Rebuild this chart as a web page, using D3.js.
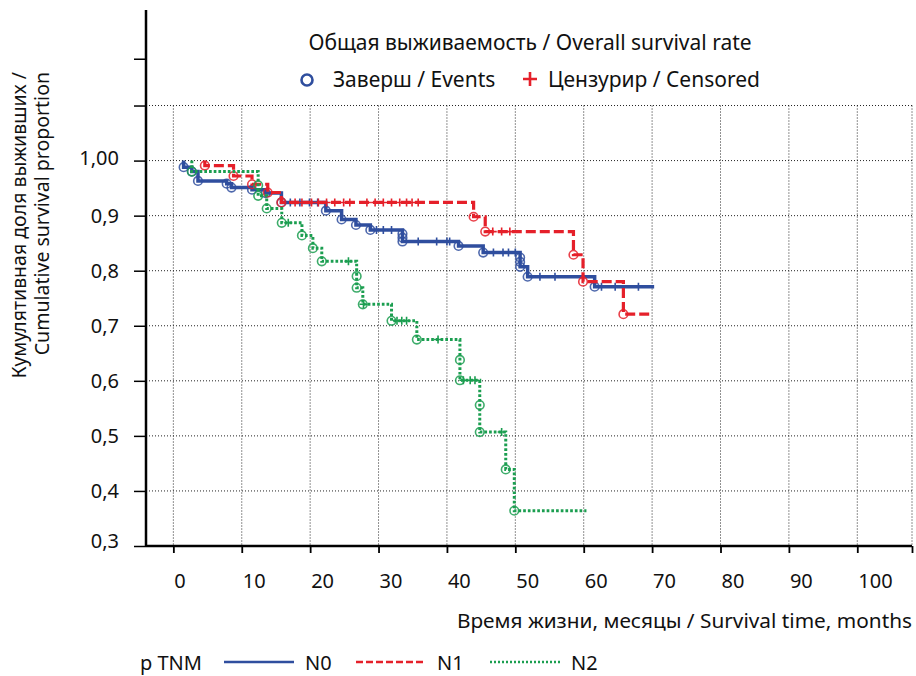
<!DOCTYPE html>
<html>
<head>
<meta charset="utf-8">
<script src="https://cdn.jsdelivr.net/npm/d3@7"></script>
<style>
  body { margin: 0; background: #fff; }
  text { font-family: "Noto Sans", sans-serif; fill: #111; }
</style>
</head>
<body>
<svg id="km" width="916" height="676"></svg>
<script>
// events: [months, survival after event]; censored: months
var n0Events = [[1.5,0.988],[2.7,0.98],[3.6,0.963],[7.8,0.958],[8.5,0.951],[11.5,0.947],[13.5,0.941],[15.8,0.924],
    [22.3,0.909],[24.6,0.893],[26.7,0.883],[28.8,0.874],[33.5,0.867],[33.5,0.860],[33.5,0.853],[41.7,0.845],
    [45.3,0.833],[50.7,0.824],[50.7,0.816],[50.7,0.807],[51.8,0.789],[61.6,0.771]]
var n0Censored = [17.1,18.5,19.9,21.1,29.7,30.7,31.9,35.8,38.5,40.0,40.4,46.8,48.2,49.0,50.0,53.6,55.8,62.6,64.6,68.0]
var n0End = 70.3

var n1Events = [[4.6,0.991],[8.8,0.972],[11.5,0.957],[13.8,0.942],[15.8,0.924],[43.9,0.898],[45.6,0.871],
    [58.5,0.829],[59.9,0.780],[65.8,0.721]]
var n1Censored = [17.8,18.8,20.2,21.2,22.4,23.6,24.9,25.8,28.3,29.5,30.7,31.9,33.1,34.1,34.9,35.8,46.7,48.0,49.2]
var n1End = 69.9

var n2Events = [[2.7,0.98],[12.4,0.955],[12.4,0.936],[13.65,0.913],[15.85,0.887],[18.8,0.864],[20.4,0.841],
    [21.7,0.817],[26.8,0.79],[26.8,0.769],[27.7,0.739],[31.9,0.709],[35.6,0.675],[41.9,0.638],[41.9,0.601],
    [44.8,0.556],[44.8,0.507],[48.6,0.439],[49.85,0.364]]
var n2Censored = [16.8,25.6,27.8,32.7,33.4,34.1,38.7,42.4,43.4,44.1,48.0]
var n2End = 60.4

var xTicks = [0,10,20,30,40,50,60,70,80,90,100]
var yTicks = [0.3,0.4,0.5,0.6,0.7,0.8,0.9,1.0]
var yLabels = ["0,3","0,4","0,5","0,6","0,7","0,8","0,9","1,00"]

var series = [
    {name:"N0", events:n0Events, censored:n0Censored, end:n0End, color:"#2F4E9E", width:3.5, dash:null, legendDash:null},
    {name:"N1", events:n1Events, censored:n1Censored, end:n1End, color:"#E5202A", width:3.2, dash:"10,4", legendDash:"7,3"},
    {name:"N2", events:n2Events, censored:n2Censored, end:n2End, color:"#1B9E50", width:3, dash:"2.7,2", legendDash:"2,2"}
]

var dimensions = {width: 916, height: 676, left: 146, right: 912, top: 10, bottom: 546}

var svg = d3.select("#km")

var xScale = d3.scaleLinear().domain([-4, 108]).range([dimensions.left, dimensions.right])
var yScale = d3.scaleLinear().domain([0.3, 1.2735]).range([dimensions.bottom, dimensions.top])

// grid
var grid = svg.append("g")
grid.selectAll(".vgrid")
    .data(xTicks.concat([108]))
    .join("line")
    .attr("x1", d => xScale(d)).attr("x2", d => xScale(d))
    .attr("y1", yScale(1.1)).attr("y2", dimensions.bottom)
    .attr("stroke", "#222").attr("stroke-width", 1).attr("stroke-dasharray", "1,2")
grid.selectAll(".hgrid")
    .data([0.4,0.5,0.6,0.7,0.8,0.9,1.0,1.1])
    .join("line")
    .attr("x1", dimensions.left).attr("x2", dimensions.right)
    .attr("y1", d => yScale(d)).attr("y2", d => yScale(d))
    .attr("stroke", "#222").attr("stroke-width", 1).attr("stroke-dasharray", "1,2")

// y axis
var yAxisGen = d3.axisLeft(yScale).tickValues(yTicks.concat([1.1, 1.185])).tickSize(12).tickFormat("")
var yAxis = svg.append("g")
    .attr("transform", `translate(${dimensions.left},0)`)
    .call(yAxisGen)
yAxis.select(".domain").attr("d", `M0,${dimensions.top}V${dimensions.bottom}`).attr("stroke-width", 2.5)
yAxis.selectAll(".tick line").attr("stroke-width", 1.5)

svg.append("g").selectAll("text")
    .data(yTicks)
    .join("text")
    .attr("x", 119)
    .attr("y", (d, i) => yScale(d) + (d < 0.35 ? 2 : (d > 0.95 ? 4 : 7)))
    .attr("text-anchor", "end")
    .attr("font-size", 20)
    .text((d, i) => yLabels[i])

// x axis
var xAxisGen = d3.axisBottom(xScale).tickValues(xTicks.concat([108])).tickSize(7).tickFormat("")
var xAxis = svg.append("g")
    .attr("transform", `translate(0,${dimensions.bottom})`)
    .call(xAxisGen)
xAxis.select(".domain").attr("d", `M${dimensions.left},0H${dimensions.right}`).attr("stroke-width", 2.5)
xAxis.selectAll(".tick line").attr("stroke-width", 1.8)

svg.append("g").selectAll("text")
    .data(xTicks)
    .join("text")
    .attr("x", d => xScale(d) + 1)
    .attr("y", 588)
    .attr("text-anchor", "start")
    .attr("font-size", 20)
    .text(d => d)

// axis titles
svg.append("text")
    .attr("x", 912).attr("y", 628)
    .attr("text-anchor", "end")
    .attr("font-size", 20.8)
    .text("Время жизни, месяцы / Survival time, months")

svg.append("text")
    .attr("transform", "translate(26,72) rotate(-90)")
    .attr("text-anchor", "end")
    .attr("font-size", 19.5)
    .text("Кумулятивная доля выживших /")
svg.append("text")
    .attr("transform", "translate(49,72) rotate(-90)")
    .attr("text-anchor", "end")
    .attr("font-size", 19.5)
    .text("Cumulative survival proportion")

// curves
function survAt(events, t) {
    var s = 1
    events.forEach(function(e){ if (e[0] <= t) s = e[1] })
    return s
}

var line = d3.line()
    .x(d => xScale(d[0]))
    .y(d => yScale(d[1]))
    .curve(d3.curveStepAfter)

series.forEach(function(sr){
    var pts = [[sr.events[0][0], 1]].concat(sr.events).concat([[sr.end, sr.events[sr.events.length-1][1]]])
    var g = svg.append("g").attr("class", sr.name)

    g.append("path")
        .datum(pts)
        .attr("d", line)
        .attr("fill", "none")
        .attr("stroke", sr.color)
        .attr("stroke-width", sr.width)
        .attr("stroke-dasharray", sr.dash)

    g.selectAll("circle")
        .data(sr.events)
        .join("circle")
        .attr("cx", d => xScale(d[0]))
        .attr("cy", d => yScale(d[1]))
        .attr("r", 4.3)
        .attr("fill", "none")
        .attr("stroke", sr.color)
        .attr("stroke-opacity", 0.85)
        .attr("stroke-width", 1.6)

    g.selectAll(".cens")
        .data(sr.censored)
        .join("path")
        .attr("class", "cens")
        .attr("d", function(d){
            var cx = xScale(d), cy = yScale(survAt(sr.events, d))
            return `M${cx-4},${cy}H${cx+4}M${cx},${cy-4}V${cy+4}`
        })
        .attr("stroke", sr.color)
        .attr("stroke-width", 1.6)
})

// top legend
svg.append("text")
    .attr("x", 530).attr("y", 50)
    .attr("text-anchor", "middle")
    .attr("font-size", 21)
    .text("Общая выживаемость / Overall survival rate")

svg.append("circle")
    .attr("cx", 307).attr("cy", 80).attr("r", 5.5)
    .attr("fill", "none").attr("stroke", "#2F4E9E").attr("stroke-width", 2.6)
svg.append("text")
    .attr("x", 333).attr("y", 87)
    .attr("font-size", 21)
    .text("Заверш / Events")
svg.append("path")
    .attr("d", "M523,79H537M530,72V86")
    .attr("stroke", "#E5202A").attr("stroke-width", 2.6)
svg.append("text")
    .attr("x", 548).attr("y", 87)
    .attr("font-size", 21)
    .text("Цензурир / Censored")

// bottom legend
const legend = svg.append("g")
legend.append("text")
    .attr("x", 140).attr("y", 670)
    .attr("font-size", 20)
    .text("p TNM")
series.forEach(function(sr, i){
    var x0 = [224, 356, 490][i]
    legend.append("line")
        .attr("x1", x0).attr("x2", x0 + 70)
        .attr("y1", 662).attr("y2", 662)
        .attr("stroke", sr.color)
        .attr("stroke-width", 2.4)
        .attr("stroke-dasharray", sr.legendDash)
    legend.append("text")
        .attr("x", x0 + 81).attr("y", 670)
        .attr("font-size", 20)
        .text(sr.name)
})
</script>
</body>
</html>
